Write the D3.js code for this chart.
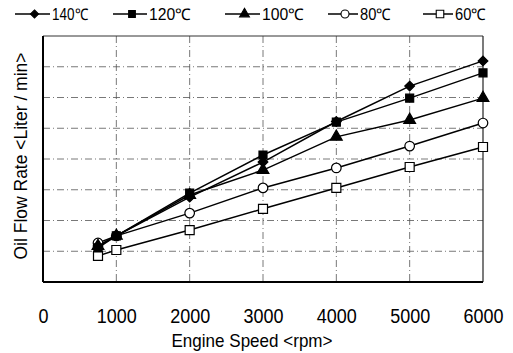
<!DOCTYPE html>
<html>
<head>
<meta charset="utf-8">
<script src="https://cdn.jsdelivr.net/npm/d3@7"></script>
<style>
  body { margin: 0; background: #fff; }
  text { font-family: "Liberation Sans", Arial, sans-serif; fill: #000; }
</style>
</head>
<body>
<svg id="chart"></svg>
<script>
// engine speed (rpm) and oil flow (relative units, grid = 1 unit)
const speeds = [750, 1000, 2000, 3000, 4000, 5000, 6000];
const temps = ['140℃', '120℃', '100℃', '80℃', '60℃'];
const flow140 = [1.17, 1.50, 2.76, 3.90, 5.22, 6.37, 7.19];
const flow120 = [1.11, 1.50, 2.89, 4.13, 5.20, 5.98, 6.80];
const flow100 = [1.17, 1.50, 2.83, 3.64, 4.72, 5.27, 5.98];
const flow80 = [1.27, 1.50, 2.24, 3.06, 3.71, 4.42, 5.17];
const flow60 = [0.85, 1.04, 1.69, 2.38, 3.06, 3.74, 4.39];
const xTicks = [0, 1000, 2000, 3000, 4000, 5000, 6000];
const yGrid = [1, 2, 3, 4, 5, 6, 7];

const W = 513, H = 353;
const margin = {top: 36, right: 30, bottom: 71, left: 43},
    width = W - margin.left - margin.right,
    height = H - margin.top - margin.bottom;

const svg = d3.select('#chart').attr('width', W).attr('height', H);
const g = svg.append('g').attr('transform', `translate(${margin.left}, ${margin.top})`);

const xScale = d3.scaleLinear().domain([0, 6000]).range([0, width]);
const yScale = d3.scaleLinear().domain([0, 8]).range([height, 0]);

// grid
g.selectAll('.hgrid').data(yGrid).enter().append('line')
    .attr('x1', 0).attr('x2', width)
    .attr('y1', d => yScale(d)).attr('y2', d => yScale(d))
    .attr('stroke', '#555').attr('stroke-width', 0.8)
    .attr('stroke-dasharray', '7,3,1,3');
g.selectAll('.vgrid').data(xTicks.slice(1, -1)).enter().append('line')
    .attr('y1', 0).attr('y2', height)
    .attr('x1', d => xScale(d)).attr('x2', d => xScale(d))
    .attr('stroke', '#555').attr('stroke-width', 0.8)
    .attr('stroke-dasharray', '7,3,1,3');

// frame
g.append('line').attr('x1', 0).attr('x2', width).attr('y1', 0).attr('y2', 0)
    .attr('stroke', '#333').attr('stroke-width', 1);
g.append('line').attr('x1', width).attr('x2', width).attr('y1', 0).attr('y2', height)
    .attr('stroke', '#222').attr('stroke-width', 1.2);
g.append('line').attr('x1', 0).attr('x2', 0).attr('y1', 0).attr('y2', height)
    .attr('stroke', '#000').attr('stroke-width', 2);
g.append('line').attr('x1', 0).attr('x2', width).attr('y1', height).attr('y2', height)
    .attr('stroke', '#000').attr('stroke-width', 2);

// x axis labels
const xAxis = d3.axisBottom(xScale).tickValues(xTicks).tickSize(0).tickPadding(27)
    .tickFormat(d3.format('d'));
const xAxisG = g.append('g').attr('transform', `translate(0, ${height})`).call(xAxis);
xAxisG.select('.domain').remove();
xAxisG.selectAll('text')
    .style('font-size', '20px').style('font-family', '"Liberation Sans", Arial, sans-serif')
    .attr('textLength', d => d === 0 ? 10 : 40).attr('lengthAdjust', 'spacingAndGlyphs');

svg.append('text').attr('x', 252).attr('y', 347)
    .attr('text-anchor', 'middle').style('font-size', '19px')
    .attr('textLength', 161).attr('lengthAdjust', 'spacingAndGlyphs')
    .text('Engine Speed <rpm>');
svg.append('text').attr('transform', `translate(27, 156) rotate(-90)`)
    .attr('text-anchor', 'middle').style('font-size', '19px')
    .attr('textLength', 207).attr('lengthAdjust', 'spacingAndGlyphs')
    .text('Oil Flow Rate <Liter / min>');

// series
const diamond = d3.symbolDiamond2 || d3.symbolDiamond;
const series = [
    {name: temps[0], values: flow140, shape: diamond, fill: '#000', size: 60},
    {name: temps[1], values: flow120, shape: d3.symbolSquare, fill: '#000', size: 64},
    {name: temps[2], values: flow100, shape: d3.symbolTriangle, fill: '#000', size: 60},
    {name: temps[3], values: flow80, shape: d3.symbolCircle, fill: '#fff', size: 72},
    {name: temps[4], values: flow60, shape: d3.symbolSquare, fill: '#fff', size: 81}
];

const line = d3.line().x((d, i) => xScale(speeds[i])).y(d => yScale(d));

series.forEach(s => {
    g.append('path').datum(s.values).attr('d', line)
        .attr('fill', 'none').attr('stroke', '#000').attr('stroke-width', 1.5);
});
series.slice().reverse().forEach(s => {
    g.selectAll(null).data(s.values).enter().append('path')
        .attr('d', d3.symbol().type(s.shape).size(s.size))
        .attr('transform', (d, i) => `translate(${xScale(speeds[i])}, ${yScale(d)})`)
        .attr('fill', s.fill).attr('stroke', '#000').attr('stroke-width', 1.2);
});

// legend
const legendX = [15, 113, 225, 328, 423];
const legendW = [35, 34, 35, 30, 30];
const textW = [36, 42, 42, 31, 31];
const legend = svg.append('g');
series.forEach((s, i) => {
    const lg = legend.append('g').attr('transform', `translate(${legendX[i]}, 14)`);
    lg.append('line').attr('x1', 0).attr('x2', legendW[i]).attr('y1', 0).attr('y2', 0)
        .attr('stroke', '#000').attr('stroke-width', 1.5);
    lg.append('path').attr('d', d3.symbol().type(s.shape).size(s.size * 0.7))
        .attr('transform', `translate(${legendW[i] / 2 + 2}, 0)`)
        .attr('fill', s.fill).attr('stroke', '#000').attr('stroke-width', 1.1);
    lg.append('text').attr('x', legendW[i] + 2).attr('y', 6)
        .style('font-size', '16px')
        .attr('textLength', textW[i]).attr('lengthAdjust', 'spacingAndGlyphs')
        .text(s.name);
});
</script>
</body>
</html>
